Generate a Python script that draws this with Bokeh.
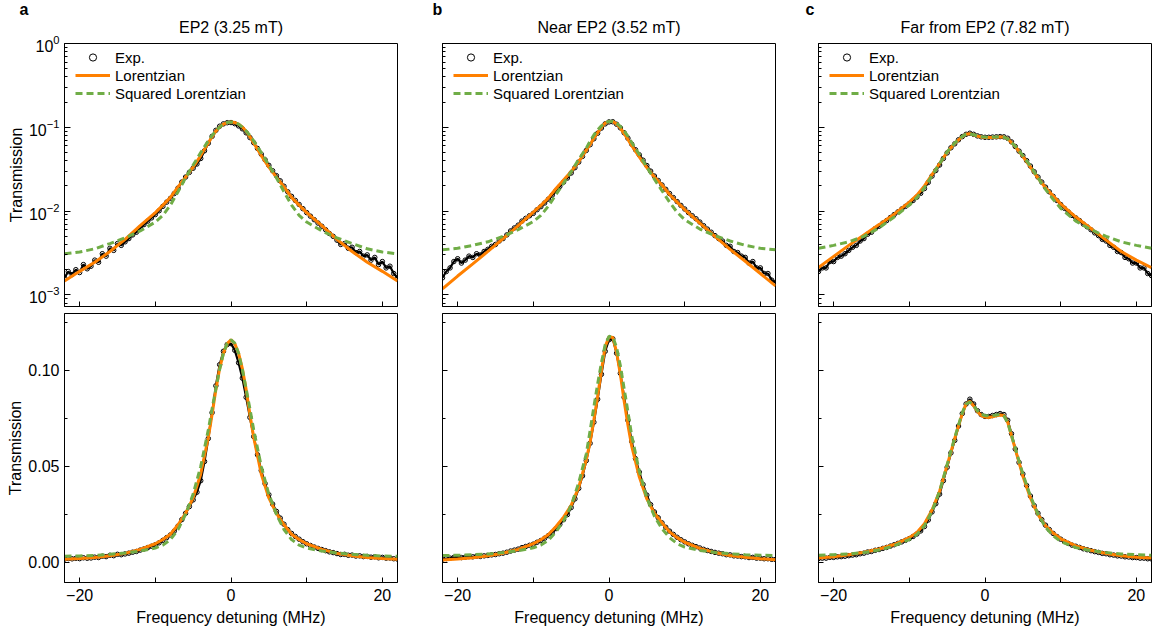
from bokeh.plotting import figure
from bokeh.layouts import row, column
from bokeh.models import (Range1d, FixedTicker, LogTickFormatter, PrintfTickFormatter,
                          CustomJSTickFormatter, Legend, LegendItem, Title,
                          LinearAxis, ColumnDataSource)
from bokeh.embed import file_html
from bokeh.resources import INLINE

FONT = "Liberation Sans"
ORANGE = "#FF8000"
GREEN = "#70AD47"

TITLES = ["EP2 (3.25 mT)", "Near EP2 (3.52 mT)", "Far from EP2 (7.82 mT)"]
LETTERS = ["a", "b", "c"]
X_LABEL = "Frequency detuning (MHz)"
Y_LABEL = "Transmission"

FIT_X = [-22, -20, -18, -16, -14, -12, -10, -9, -8, -7, -6, -5, -4, -3, -2.5, -2, -1.5, -1, -0.5,
         0, 0.5, 1, 1.5, 2, 2.5, 3, 4, 5, 6, 7, 8, 9, 10, 12, 14, 16, 18, 20, 22]
EXP_X = [i * 0.5 for i in range(-44, 45)]

ORANGE_A = [0.00147, 0.00191, 0.00245, 0.0033, 0.0046, 0.0067, 0.0096, 0.0118, 0.0146, 0.0195,
            0.0255, 0.0335, 0.046, 0.065, 0.077, 0.090, 0.101, 0.109, 0.114,
            0.116, 0.114, 0.109, 0.101, 0.090, 0.077, 0.065, 0.046, 0.0335, 0.0255, 0.0195,
            0.0146, 0.0118, 0.0096, 0.0067, 0.0046, 0.0033, 0.00245, 0.00191, 0.00147]
GREEN_A = [0.00309, 0.00325, 0.00355, 0.0041, 0.0048, 0.0058, 0.0074, 0.0089, 0.0118, 0.0170,
           0.0250, 0.0355, 0.050, 0.069, 0.080, 0.0905, 0.1005, 0.109, 0.1142,
           0.116, 0.1142, 0.109, 0.1005, 0.0905, 0.080, 0.069, 0.050, 0.0355, 0.0250, 0.0170,
           0.0118, 0.0089, 0.0074, 0.0058, 0.0048, 0.0041, 0.00355, 0.00325, 0.00309]
EXP_A = [0.0016, 0.0019, 0.00175, 0.0020, 0.00185, 0.0023, 0.00205, 0.0022, 0.0026, 0.00245,
         0.0031, 0.0029, 0.0036, 0.0034, 0.0041, 0.0039, 0.0043, 0.0047, 0.0052, 0.0056,
         0.0063, 0.0069, 0.0076, 0.0083, 0.0091, 0.0101, 0.0114, 0.0128, 0.0142, 0.0162,
         0.0188, 0.0222, 0.0255, 0.0290, 0.0325, 0.0365, 0.0425, 0.0525, 0.0645, 0.0780,
         0.0920, 0.1030, 0.1100, 0.1135,
         0.1140,
         0.1105, 0.1040, 0.0960, 0.0860, 0.0755, 0.0655, 0.0560, 0.0478, 0.0410, 0.0352,
         0.0303, 0.0265, 0.0230, 0.0198, 0.0170, 0.0150, 0.0134, 0.0120, 0.0107, 0.0096,
         0.0087, 0.0079, 0.0072, 0.0066, 0.0060, 0.0054, 0.0050, 0.0045, 0.0040, 0.0041,
         0.0036, 0.0037, 0.0032, 0.0033, 0.0029, 0.0030, 0.0026, 0.0028, 0.0023, 0.0025,
         0.0021, 0.0022, 0.0018, 0.0016]

ORANGE_B = [0.00118, 0.00168, 0.00235, 0.0033, 0.0047, 0.0067, 0.0097, 0.0117, 0.0144, 0.0186,
            0.0235, 0.0296, 0.039, 0.0535, 0.0625, 0.0742, 0.0866, 0.100, 0.1125,
            0.1176, 0.1172, 0.1095, 0.098, 0.084, 0.0715, 0.0605, 0.0445, 0.033, 0.0255, 0.0205,
            0.0158, 0.0128, 0.0104, 0.0072, 0.0050, 0.0035, 0.00252, 0.0018, 0.00128]
GREEN_B = [0.00345, 0.0036, 0.0039, 0.0043, 0.0050, 0.0060, 0.0075, 0.0089, 0.0115, 0.0158,
           0.0215, 0.0295, 0.0415, 0.0565, 0.0685, 0.081, 0.093, 0.104, 0.1135,
           0.1178, 0.1175, 0.112, 0.1025, 0.0905, 0.0785, 0.066, 0.0475, 0.0335, 0.024, 0.0175,
           0.0128, 0.0097, 0.0079, 0.0061, 0.0051, 0.0044, 0.0039, 0.0036, 0.00345]
EXP_B = [0.0016, 0.0019, 0.0021, 0.0025, 0.0027, 0.0024, 0.0026, 0.0029, 0.0028, 0.0031,
         0.0030, 0.0033, 0.0035, 0.0038, 0.0040, 0.0044, 0.0047, 0.0052, 0.0058, 0.0063,
         0.0068, 0.0076, 0.0082, 0.0088, 0.0094, 0.0104, 0.0113, 0.0125, 0.0139, 0.0155,
         0.0175, 0.0197, 0.0222, 0.0248, 0.0285, 0.0330, 0.0385, 0.0450, 0.0530, 0.0620,
         0.0730, 0.0850, 0.0980, 0.1100,
         0.1160,
         0.1165, 0.1090, 0.0985, 0.0860, 0.0740, 0.0630, 0.0540, 0.0470, 0.0405, 0.0350,
         0.0300, 0.0262, 0.0232, 0.0205, 0.0182, 0.0162, 0.0145, 0.0130, 0.0117, 0.0106,
         0.0096, 0.0088, 0.0081, 0.0074, 0.0067, 0.0061, 0.0056, 0.0051, 0.0047, 0.0044,
         0.0039, 0.0038, 0.0033, 0.0032, 0.0029, 0.0028, 0.0024, 0.0025, 0.0021, 0.0021,
         0.0018, 0.0018, 0.0015, 0.0014]

ORANGE_C = [0.00212, 0.00288, 0.0039, 0.0052, 0.0069, 0.0092, 0.0128, 0.0155, 0.0200, 0.0272,
            0.0370, 0.0505, 0.0645, 0.0775, 0.0825, 0.0840, 0.0815, 0.0785, 0.0765,
            0.0757, 0.0755, 0.0758, 0.0763, 0.0768, 0.0765, 0.0730, 0.0590, 0.0450, 0.0335, 0.0248,
            0.0190, 0.0152, 0.0122, 0.0085, 0.0062, 0.0045, 0.0033, 0.0026, 0.00212]
GREEN_C = [0.0036, 0.0039, 0.0043, 0.0050, 0.0063, 0.0085, 0.0118, 0.0145, 0.0190, 0.0265,
           0.0370, 0.0510, 0.0650, 0.0780, 0.0825, 0.0835, 0.0815, 0.0790, 0.0772,
           0.0765, 0.0763, 0.0765, 0.0768, 0.0770, 0.0762, 0.0728, 0.0595, 0.0460, 0.0345, 0.0250,
           0.0182, 0.0138, 0.0108, 0.0076, 0.0060, 0.0050, 0.0043, 0.0039, 0.0036]
EXP_C = [0.0019, 0.0021, 0.0021, 0.0025, 0.0025, 0.0028, 0.0029, 0.0031, 0.0034, 0.0037,
         0.0039, 0.0044, 0.0047, 0.0053, 0.0056, 0.0062, 0.0066, 0.0072, 0.0077, 0.0084,
         0.0091, 0.0098, 0.0106, 0.0114, 0.0123, 0.0134, 0.0147, 0.0163, 0.0186, 0.0220,
         0.0262, 0.0305, 0.0355, 0.0425, 0.0495, 0.0570, 0.0635, 0.0710, 0.0775, 0.0825,
         0.0850, 0.0825, 0.0790, 0.0770,
         0.0760,
         0.0760, 0.0765, 0.0770, 0.0775, 0.0770, 0.0740, 0.0670, 0.0590, 0.0520, 0.0460,
         0.0400, 0.0345, 0.0295, 0.0255, 0.0222, 0.0193, 0.0170, 0.0150, 0.0134, 0.0120,
         0.0108, 0.0098, 0.0089, 0.0083, 0.0077, 0.0070, 0.0065, 0.0060, 0.0055, 0.0051,
         0.0046, 0.0044, 0.0039, 0.0037, 0.0033, 0.0032, 0.0028, 0.0027, 0.0024, 0.0024,
         0.0021, 0.0021, 0.0018, 0.0017]

PANELS = [(ORANGE_A, GREEN_A, EXP_A), (ORANGE_B, GREEN_B, EXP_B), (ORANGE_C, GREEN_C, EXP_C)]

X_TICKS = [-20, 0, 20]
X_MINOR = [-10, 10]
LOG_TICKS = [1e-3, 1e-2, 1e-1, 1.0]
LOG_MINOR = [k * 10.0 ** e for e in (-4, -3, -2, -1) for k in range(2, 10)]
LIN_TICKS = [0.0, 0.05, 0.10]
LIN_MINOR = [0.025, 0.075, 0.125]

FRAME_W = 333
LEFT = [64, 26, 26]
RIGHT = [19, 17, 6]
LETTER_OFFSET = [-45, -10, -13]
TOP_BORDERS = (40, 2)
BOT_BORDERS = (5, 50)
TOP_FRAME_H = 266
BOT_FRAME_H = 269


def style_axis(ax, show_labels, label=None):
    ax.axis_line_color = "black"
    ax.axis_line_width = 1
    ax.major_tick_line_color = "black"
    ax.minor_tick_line_color = "black"
    ax.major_tick_out = 0
    ax.minor_tick_out = 0
    ax.major_label_text_font = FONT
    ax.major_label_text_color = "black"
    ax.axis_label_text_font = FONT
    ax.axis_label_text_font_size = "16px"
    ax.axis_label_text_font_style = "normal"
    ax.axis_label_text_color = "black"
    if show_labels:
        ax.major_label_text_font_size = "16px"
        ax.major_label_standoff = 5
    else:
        ax.formatter = CustomJSTickFormatter(code="return ''")
        ax.major_label_text_font_size = "0px"
        ax.major_label_standoff = 0
    if label:
        ax.axis_label = label
        ax.axis_label_standoff = 1


def add_data(p, orange, green, exp):
    src_fit = ColumnDataSource(dict(x=FIT_X, lor=orange, sq=green))
    src_exp = ColumnDataSource(dict(x=EXP_X, y=exp))
    p.line("x", "y", source=src_exp, line_color="black", line_width=2.2)
    sc = p.scatter("x", "y", source=src_exp, marker="circle", size=4.5, line_color="black",
                   fill_color=None, line_width=1)
    lo = p.line("x", "lor", source=src_fit, line_color=ORANGE, line_width=3)
    gr = p.line("x", "sq", source=src_fit, line_color=GREEN, line_width=3, line_dash="7 4")
    return sc, lo, gr


rows_top = []
rows_bot = []
for j, (orange, green, exp) in enumerate(PANELS):
    w = LEFT[j] + FRAME_W + RIGHT[j]

    # ---------- top (log) panel
    pt = figure(width=w, height=TOP_BORDERS[0] + TOP_FRAME_H + TOP_BORDERS[1],
                x_range=Range1d(-22, 22), y_range=Range1d(7.27e-4, 1.001),
                y_axis_type="log", output_backend="svg", toolbar_location=None, title=None,
                min_border_left=LEFT[j], min_border_right=RIGHT[j],
                min_border_top=TOP_BORDERS[0], min_border_bottom=TOP_BORDERS[1])
    pt.grid.visible = False
    pt.outline_line_color = "black"
    pt.outline_line_alpha = 1
    pt.xaxis.ticker = FixedTicker(ticks=X_TICKS, minor_ticks=X_MINOR)
    pt.yaxis.ticker = FixedTicker(ticks=LOG_TICKS, minor_ticks=LOG_MINOR)
    style_axis(pt.xaxis[0], False)
    pt.xaxis.major_tick_in = 5
    pt.xaxis.minor_tick_in = 5
    if j == 0:
        style_axis(pt.yaxis[0], True, Y_LABEL)
        pt.yaxis.formatter = LogTickFormatter()
    else:
        style_axis(pt.yaxis[0], False)
    pt.yaxis.major_tick_in = 6
    pt.yaxis.minor_tick_in = 3

    # panel title as the label of an empty top axis, panel letter as an outer title
    top_ax = LinearAxis(ticker=FixedTicker(ticks=[]))
    style_axis(top_ax, False, TITLES[j])
    top_ax.axis_line_color = None
    top_ax.major_tick_in = 0
    top_ax.minor_tick_in = 0
    top_ax.axis_label_standoff = 8
    pt.add_layout(top_ax, "above")
    pt.add_layout(Title(text=LETTERS[j], align="left", offset=LETTER_OFFSET[j], standoff=-4,
                        text_font=FONT, text_font_size="16px", text_font_style="bold",
                        text_color="black"), "above")

    sc, lo, gr = add_data(pt, orange, green, exp)
    legend = Legend(items=[LegendItem(label="Exp.", renderers=[sc]),
                           LegendItem(label="Lorentzian", renderers=[lo]),
                           LegendItem(label="Squared Lorentzian", renderers=[gr])],
                    location=(11, 204), glyph_width=35, glyph_height=18, label_height=18,
                    label_standoff=5, spacing=0, padding=0, margin=0,
                    border_line_color=None, background_fill_alpha=0,
                    label_text_font=FONT, label_text_font_size="15px",
                    label_text_color="black")
    pt.add_layout(legend)

    # ---------- bottom (linear) panel
    pb = figure(width=w, height=BOT_BORDERS[0] + BOT_FRAME_H + BOT_BORDERS[1],
                x_range=Range1d(-22, 22), y_range=Range1d(-0.0106, 0.1297),
                output_backend="svg", toolbar_location=None,
                min_border_left=LEFT[j], min_border_right=RIGHT[j],
                min_border_top=BOT_BORDERS[0], min_border_bottom=BOT_BORDERS[1])
    pb.grid.visible = False
    pb.outline_line_color = "black"
    pb.outline_line_alpha = 1
    pb.xaxis.ticker = FixedTicker(ticks=X_TICKS, minor_ticks=X_MINOR)
    pb.yaxis.ticker = FixedTicker(ticks=LIN_TICKS, minor_ticks=LIN_MINOR)
    style_axis(pb.xaxis[0], True, X_LABEL)
    pb.xaxis.major_tick_in = 5
    pb.xaxis.minor_tick_in = 5
    pb.xaxis.major_label_standoff = 6
    pb.xaxis.axis_label_standoff = 5
    if j == 0:
        style_axis(pb.yaxis[0], True, Y_LABEL)
        pb.yaxis.formatter = PrintfTickFormatter(format="%.2f")
    else:
        style_axis(pb.yaxis[0], False)
    pb.yaxis.major_tick_in = 5
    pb.yaxis.minor_tick_in = 3

    add_data(pb, orange, green, exp)

    rows_top.append(pt)
    rows_bot.append(pb)

layout = column(row(*rows_top, spacing=0), row(*rows_bot, spacing=0), spacing=0)

with open("out.html", "w") as f:
    f.write(file_html(layout, INLINE))
